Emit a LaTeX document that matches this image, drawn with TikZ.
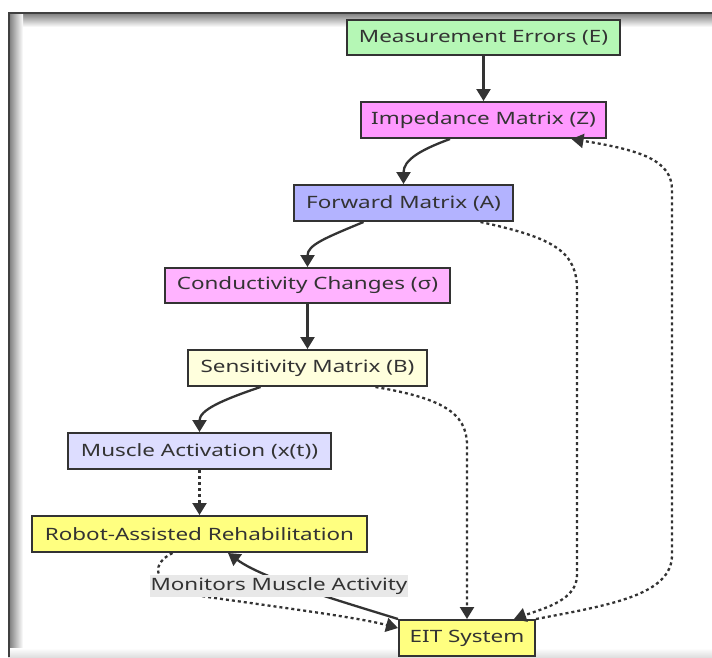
\documentclass[tikz,border=0pt]{standalone}
\usepackage{fontspec}
\setmainfont{Noto Sans}[FakeStretch=1.32]
\usetikzlibrary{arrows.meta,calc}
\definecolor{dark}{HTML}{333333}
\definecolor{txt}{HTML}{333333}
\definecolor{cE}{HTML}{B5F7B5}
\definecolor{cZ}{HTML}{FF99FF}
\definecolor{cA}{HTML}{B3B3FF}
\definecolor{cS}{HTML}{FFB3FF}
\definecolor{cB}{HTML}{FFFFDD}
\definecolor{cM}{HTML}{DDDDFF}
\definecolor{cY}{HTML}{FFFF80}
\definecolor{lblbg}{HTML}{E8E8E8}
\tikzset{
  box/.style={draw=dark, line width=2pt, inner sep=0pt, text=txt,
    font=\fontsize{17}{20}\selectfont},
  edge/.style={draw=dark, line width=2.3pt, -{Triangle[length=12pt,width=14pt]}},
  dotedge/.style={edge, dash pattern=on 3pt off 3pt},
  lbl/.style={fill=lblbg, inner sep=0pt, text=txt, minimum width=258pt,
    minimum height=22pt, font=\fontsize{17}{20}\selectfont}
}
\begin{document}
\begin{tikzpicture}[x=1pt,y=-1pt]
\useasboundingbox (0,0) rectangle (712,657);
\fill[white] (0,0) rectangle (712,657);
% frame shadow
\shade[top color=gray!90!black, bottom color=white] (8,12) rectangle (712,27);
\shade[left color=gray!90!black, right color=white] (8,12) rectangle (23,657);
\shade[top color=white, bottom color=gray!25] (8,648) rectangle (712,657);
\fill[white] (23,27) rectangle (709,648);
\draw[gray!50!black, line width=1.5pt] (8.8,657) -- (8.8,12.8) -- (712,12.8);

% nodes
\node[box, fill=cE, minimum width=273pt, minimum height=35pt] (E) at (483.5,37.5) {Measurement Errors (E)};
\node[box, fill=cZ, minimum width=245pt, minimum height=36pt] (Z) at (483.5,120) {Impedance Matrix (Z)};
\node[box, fill=cA, minimum width=219pt, minimum height=36pt] (A) at (403.5,203) {Forward Matrix (A)};
\node[box, fill=cS, minimum width=285pt, minimum height=35pt] (S) at (307.5,285.5) {Conductivity Changes (σ)};
\node[box, fill=cB, minimum width=239pt, minimum height=36pt] (B) at (307.5,368) {Sensitivity Matrix (B)};
\node[box, fill=cM, minimum width=263pt, minimum height=36pt] (M) at (199.5,451) {Muscle Activation (x(t))};
\node[box, fill=cY, minimum width=335pt, minimum height=36pt] (R) at (199.5,534) {Robot-Assisted Rehabilitation};
\node[box, fill=cY, minimum width=136pt, minimum height=36pt] (T) at (467,638) {EIT System};

% edges
\draw[edge] (E.south) -- (Z.north);
\draw[edge] ([xshift=-33.5pt]Z.south) .. controls (420,150) and (403.5,160) .. (A.north);
\draw[edge] ([xshift=-40pt]A.south) .. controls (325,238) and (307.5,245) .. (S.north);
\draw[edge] (S.south) -- (B.north);
\draw[edge] ([xshift=-47pt]B.south) .. controls (222,400) and (199.5,410) .. (M.north);
\draw[dotedge] (M.south) -- (R.north);
\draw[dotedge] ([xshift=68pt]B.south) .. controls (440,398) and (467,412) .. (467,445) -- (T.north);
\draw[dotedge] ([xshift=77pt]A.south) .. controls (555,238) and (577,252) .. (577,290) -- (577,575) .. controls (577,600) and (545,608) .. ([xshift=47pt]T.north);
\draw[dotedge] (T.north east) .. controls (610,605) and (672,595) .. (672,555) -- (672,190) .. controls (672,160) and (640,150) .. ([xshift=88pt]Z.south);
\draw[dotedge] ([xshift=-27pt]R.south) .. controls (148,565) and (150,590) .. (215,598) .. controls (300,610) and (360,618) .. ([yshift=10pt]T.west);
\draw[edge] (T.north west) .. controls (330,598) and (262,578) .. ([xshift=28.5pt]R.south);
\node[lbl] (L) at (279,586) {Monitors Muscle Activity};
\end{tikzpicture}
\end{document}
